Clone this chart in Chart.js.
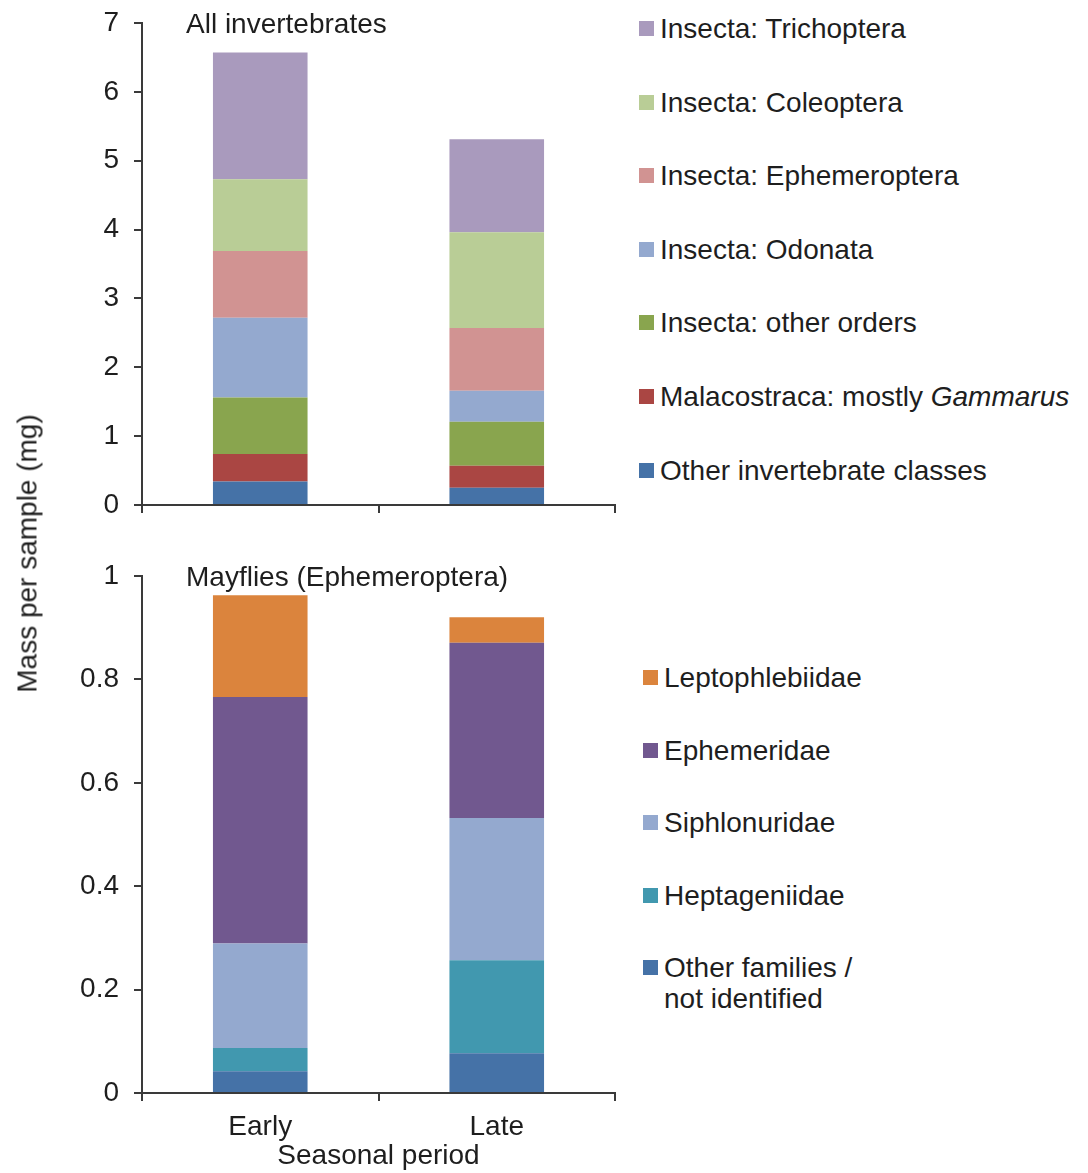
<!DOCTYPE html>
<html>
<head>
<meta charset="utf-8">
<script src="https://cdn.jsdelivr.net/npm/chart.js@4.4.1/dist/chart.umd.min.js"></script>
<style>
    body { margin: 0; background: #fff; font-family: "Liberation Sans", Arial, sans-serif; color: #1e1e1e; }
    #page { position: relative; width: 1088px; height: 1173px; overflow: hidden; }
    .panel { position: absolute; left: 0; }
    .legend-item { position: absolute; display: flex; align-items: flex-start; font-size: 28px; line-height: 31px; white-space: pre-line; }
    .swatch { width: 15px; height: 15px; margin-top: 8px; margin-right: 6px; flex: none; }
    #ytitle { position: absolute; width: 400px; left: -173px; top: 538px; text-align: center; font-size: 28px; line-height: 31px; transform: rotate(-90deg); white-space: nowrap; }
</style>
</head>
<body>
<div id="page">
    <div class="panel" style="top:-10px"><canvas id="topChart" width="630" height="547"></canvas></div>
    <div class="panel" style="top:540px"><canvas id="bottomChart" width="630" height="633"></canvas></div>
    <div id="ytitle">Mass per sample (mg)</div>
    <div id="legendTop"></div>
    <div id="legendBottom"></div>
</div>
<script>
// --- dados (mg por amostra) ---
const periods = ['Early', 'Late'];

// painel superior: todos os invertebrados (de baixo para cima)
const allGroups = ['Other invertebrate classes', 'Malacostraca: mostly Gammarus', 'Insecta: other orders',
    'Insecta: Odonata', 'Insecta: Ephemeroptera', 'Insecta: Coleoptera', 'Insecta: Trichoptera'];
const otherClasses = [0.34, 0.25];
const malacostraca = [0.40, 0.32];
const otherOrders = [0.82, 0.64];
const odonata = [1.16, 0.45];
const ephemeroptera = [0.97, 0.91];
const coleoptera = [1.04, 1.39];
const trichoptera = [1.84, 1.35];
const allColors = ['#4572A7', '#AA4643', '#89A54E', '#94A9CF', '#D19392', '#B9CD96', '#A99ABD'];

// painel inferior: efemerópteros (de baixo para cima)
const mayflyGroups = ['Other families /\nnot identified', 'Heptageniidae', 'Siphlonuridae', 'Ephemeridae', 'Leptophlebiidae'];
const otherFamilies = [0.042, 0.077];
const heptageniidae = [0.045, 0.180];
const siphlonuridae = [0.202, 0.275];
const ephemeridae = [0.477, 0.339];
const leptophlebiidae = [0.197, 0.049];
const mayflyColors = ['#4572A7', '#4198AF', '#94A9CF', '#71588F', '#DB843D'];

// eixos
const topMax = 7, topStep = 1;
const bottomMax = 1, bottomStep = 0.2;

const FONT = '"Liberation Sans", Arial, sans-serif';
const TEXT = '#1e1e1e';
const AXIS = '#3a3a3a';
const FS = 28;

// título dentro da área do gráfico
const panelTitle = {
    id: 'panelTitle',
    afterDraw(chart, args, opts) {
        const { ctx, chartArea } = chart;
        ctx.save();
        ctx.font = FS + 'px ' + FONT;
        ctx.fillStyle = TEXT;
        ctx.textBaseline = 'alphabetic';
        ctx.fillText(opts.text, chartArea.left + 44, chartArea.top + opts.dy);
        ctx.restore();
    }
};

function criarGrafico(id, series, labels, colors, yMax, yStep, bottomAxis, title, pad, xHeight) {
    const datasets = series.map((vals, i) => ({
        label: labels[i],
        data: vals,
        backgroundColor: colors[i],
        borderWidth: 0,
        barPercentage: 0.4,
        categoryPercentage: 1.0
    }));

    return new Chart(document.getElementById(id), {
        type: 'bar',
        data: { labels: periods, datasets },
        plugins: [panelTitle],
        options: {
            responsive: false,
            animation: false,
            layout: { padding: pad },
            plugins: {
                legend: { display: false },
                tooltip: { enabled: false },
                panelTitle: { text: title, dy: 10 }
            },
            scales: {
                x: {
                    stacked: true,
                    afterFit: s => { s.height = xHeight; },
                    ticks: { display: bottomAxis, color: TEXT, padding: 9, font: { size: FS, family: FONT } },
                    grid: { drawOnChartArea: false, drawTicks: true, tickLength: 8, color: AXIS, lineWidth: 2, offset: true },
                    border: { display: true, color: AXIS, width: 2 },
                    title: {
                        display: bottomAxis, text: 'Seasonal period', color: TEXT,
                        font: { size: FS, family: FONT }, padding: { top: 0, bottom: 0 }
                    }
                },
                y: {
                    stacked: true,
                    min: 0,
                    max: yMax,
                    afterFit: s => { s.width = 142; },
                    ticks: {
                        stepSize: yStep, color: TEXT, padding: 15, font: { size: FS, family: FONT },
                        callback: v => String(Number(v.toFixed(2)))
                    },
                    grid: { drawOnChartArea: false, drawTicks: true, tickLength: 8, color: AXIS, lineWidth: 2 },
                    border: { display: true, color: AXIS, width: 2 }
                }
            }
        }
    });
}

// canvas de cima começa em -10px: área do gráfico de 23 a 505 na página
criarGrafico('topChart',
    [otherClasses, malacostraca, otherOrders, odonata, ephemeroptera, coleoptera, trichoptera],
    allGroups, allColors, topMax, topStep, false, 'All invertebrates',
    { top: 33, right: 15, bottom: 17, left: 0 }, 15);

criarGrafico('bottomChart',
    [otherFamilies, heptageniidae, siphlonuridae, ephemeridae, leptophlebiidae],
    mayflyGroups, mayflyColors, bottomMax, bottomStep, true, 'Mayflies (Ephemeroptera)',
    { top: 36, right: 15, bottom: 0, left: 0 }, 80);

// legendas em HTML (ordem invertida, topo da pilha primeiro)
function criarLegenda(elId, labels, colors, x, firstCenter, step) {
    const el = document.getElementById(elId);
    const order = labels.map((l, i) => i).reverse();
    order.forEach((idx, row) => {
        const item = document.createElement('div');
        item.className = 'legend-item';
        item.style.left = x + 'px';
        item.style.top = (firstCenter + row * step - 15.5) + 'px';
        const sw = document.createElement('span');
        sw.className = 'swatch';
        sw.style.background = colors[idx];
        const txt = document.createElement('span');
        txt.innerHTML = labels[idx].replace('Gammarus', '<i>Gammarus</i>');
        item.appendChild(sw);
        item.appendChild(txt);
        el.appendChild(item);
    });
}

criarLegenda('legendTop', allGroups, allColors, 639, 28.5, 73.6);
criarLegenda('legendBottom', mayflyGroups, mayflyColors, 643, 677.5, 72.6);
</script>
</body>
</html>
